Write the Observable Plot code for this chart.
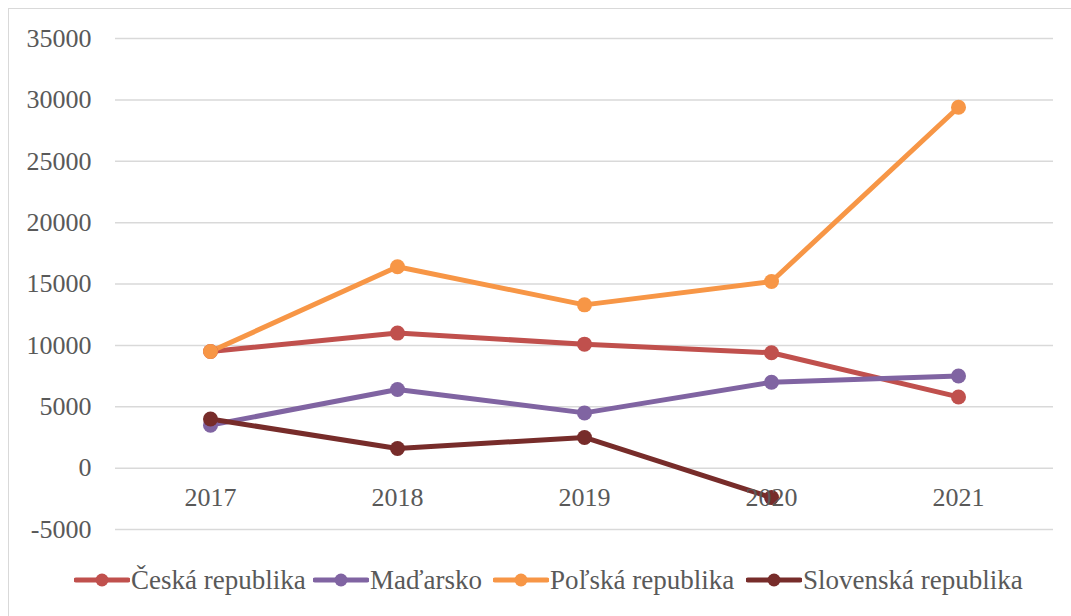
<!DOCTYPE html>
<html>
<head>
<meta charset="utf-8">
<script src="https://cdn.jsdelivr.net/npm/d3@7"></script>
<script src="https://cdn.jsdelivr.net/npm/@observablehq/plot@0.6"></script>
<style>
  html, body { margin: 0; padding: 0; background: #fff; }
  body { width: 1071px; height: 616px; position: relative; overflow: hidden; font-family: "Liberation Serif", "Times New Roman", serif; }
  #frame { position: absolute; left: 8px; top: 8px; width: 1100px; height: 700px; border-left: 1.5px solid #d9d9d9; border-top: 1.5px solid #d9d9d9; box-sizing: border-box; pointer-events: none; }
  #chart { position: absolute; left: 0; top: 0; }
  #legend { position: absolute; left: 0; top: 562px; width: 1071px; height: 36px; font-family: "Liberation Serif", "Times New Roman", serif; font-size: 27px; color: #595959; white-space: nowrap; }
  #legend .item { position: absolute; top: 0; height: 36px; display: flex; align-items: center; }
  #legend svg { display: block; margin-right: 1px; }
  #chart svg text { font-family: "Liberation Serif", "Times New Roman", serif; }
</style>
</head>
<body>
<div id="frame"></div>
<div id="chart"></div>
<div id="legend"></div>
<script>
const years = ["2017", "2018", "2019", "2020", "2021"];
const seriesNames = ["Česká republika", "Maďarsko", "Poľská republika", "Slovenská republika"];
const colors = ["#C0504D", "#8064A2", "#F79646", "#772C2A"];
const ceska = [9500, 11000, 10100, 9400, 5800];
const madarsko = [3500, 6400, 4500, 7000, 7500];
const polska = [9500, 16400, 13300, 15200, 29400];
const slovenska = [4000, 1600, 2500, -2400, null];
const yTicks = [-5000, 0, 5000, 10000, 15000, 20000, 25000, 30000, 35000];

const seriesValues = [ceska, madarsko, polska, slovenska];
const data = [];
seriesNames.forEach((name, i) => {
  seriesValues[i].forEach((v, j) => {
    if (v != null) data.push({series: name, year: years[j], value: v});
  });
});

const chart = Plot.plot({
  width: 1071,
  height: 545,
  marginTop: 38,
  marginBottom: 16,
  marginLeft: 115,
  marginRight: 18,
  style: {fontFamily: "'Liberation Serif', 'Times New Roman', serif", fontSize: "26px", color: "#595959", background: "transparent"},
  x: {type: "point", domain: years, padding: 0.5, axis: null},
  y: {domain: [-5000, 35000], ticks: yTicks},
  color: {domain: seriesNames, range: colors},
  marks: [
    Plot.gridY(yTicks, {stroke: "#d9d9d9", strokeOpacity: 1, strokeWidth: 1.5}),
    Plot.axisY(yTicks, {tickSize: 0, tickPadding: 24, label: null, fill: "#595959", fontSize: 26, tickFormat: d => String(d)}),
    Plot.line(data, {x: "year", y: "value", z: "series", stroke: "series", strokeWidth: 5, strokeLinejoin: "round"}),
    Plot.dot(data, {x: "year", y: "value", fill: "series", r: 7.5, stroke: null}),
    Plot.text(years, {x: d => d, y: () => 0, dy: 30, text: d => d, fill: "#595959", fontSize: 26, lineAnchor: "middle"})
  ]
});
document.getElementById("chart").appendChild(chart);

const legendLeft = [74, 313, 493, 746];
const legend = document.getElementById("legend");
seriesNames.forEach((name, i) => {
  const item = document.createElement("div");
  item.className = "item";
  item.style.left = legendLeft[i] + "px";
  const ns = "http://www.w3.org/2000/svg";
  const svg = document.createElementNS(ns, "svg");
  svg.setAttribute("width", "56");
  svg.setAttribute("height", "20");
  const line = document.createElementNS(ns, "line");
  line.setAttribute("x1", "2"); line.setAttribute("x2", "54");
  line.setAttribute("y1", "10"); line.setAttribute("y2", "10");
  line.setAttribute("stroke", colors[i]); line.setAttribute("stroke-width", "5");
  line.setAttribute("stroke-linecap", "round");
  const c = document.createElementNS(ns, "circle");
  c.setAttribute("cx", "28"); c.setAttribute("cy", "10"); c.setAttribute("r", "6.5");
  c.setAttribute("fill", colors[i]);
  svg.appendChild(line); svg.appendChild(c);
  const span = document.createElement("span");
  span.textContent = name;
  item.appendChild(svg); item.appendChild(span);
  legend.appendChild(item);
});
</script>
</body>
</html>
